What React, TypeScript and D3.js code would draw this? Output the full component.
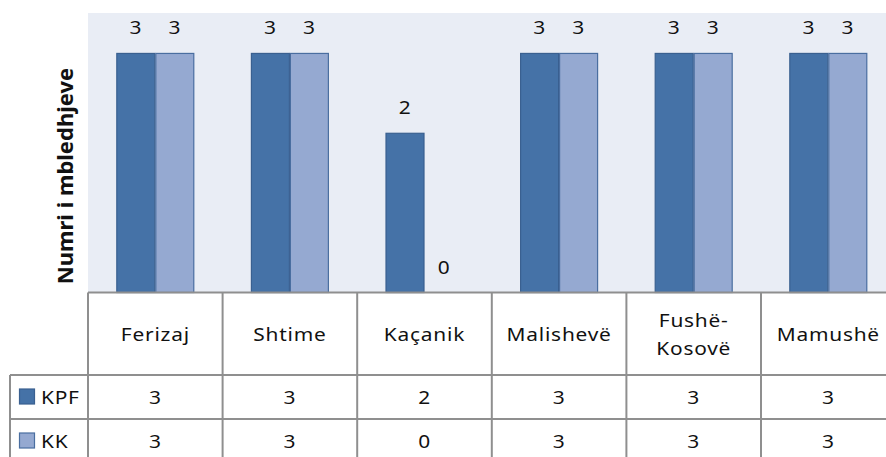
import * as d3 from 'd3';

// Data
const categories = ['Ferizaj', 'Shtime', 'Kaçanik', 'Malishevë', 'Fushë-Kosovë', 'Mamushë'];
const seriesNames = ['KPF', 'KK'];
const kpfValues = [3, 3, 2, 3, 3, 3];
const kkValues = [3, 3, 0, 3, 3, 3];
const yTitle = 'Numri i mbledhjeve';

const COLORS = ['#4572a7', '#95a9d1'];
const STROKES = ['#3a6090', '#4a6ea0'];

const W = 886;
const H = 457;
const PLOT = { left: 88, top: 13, bottom: 292.5 };
const STEP = 134.6;
const TABLE = { headerBottom: 375, rowH: 44, legendLeft: 10 };
const SX = 1.1; // horizontal stretch of the text
const FONT = '"Noto Sans", "Open Sans", sans-serif';
const GRID = '#8f8f8f';

function SText({ x, y, anchor = 'middle', size = 19, children }: any) {
  return (
    <text
      transform={`translate(${x},${y}) scale(${SX},1)`}
      textAnchor={anchor}
      fontFamily={FONT}
      fontSize={size}
      letterSpacing={0.7}
      fill="#111"
    >
      {children}
    </text>
  );
}

export default function App() {
  const series = [kpfValues, kkValues];

  const x = d3
    .scaleBand<string>()
    .domain(categories)
    .range([PLOT.left, PLOT.left + STEP * categories.length])
    .paddingInner(0)
    .paddingOuter(0);

  const xs = d3
    .scaleBand<string>()
    .domain(seriesNames)
    .range([0, x.bandwidth()])
    .paddingInner(0)
    .paddingOuter(0.726);

  const y = d3.scaleLinear().domain([0, 3.5]).range([PLOT.bottom, PLOT.top]);

  const tableBottom = TABLE.headerBottom + TABLE.rowH * seriesNames.length;
  const boundaries = categories.map((c) => x(c) ?? 0).concat([x.range()[1]]);

  return (
    <div style={{ position: 'absolute', left: 0, top: 0, width: W, height: H, overflow: 'hidden', background: '#fff' }}>
      <svg width={W} height={H} style={{ display: 'block' }}>
        {/* plot area */}
        <rect x={PLOT.left} y={PLOT.top} width={x.range()[1] - PLOT.left} height={PLOT.bottom - PLOT.top} fill="#e9edf5" />

        {/* bars */}
        {series.map((vals, si) =>
          categories.map((c, ci) => {
            const v = vals[ci];
            const bx = (x(c) ?? 0) + (xs(seriesNames[si]) ?? 0);
            return (
              <g key={`${si}-${ci}`}>
                {v > 0 && (
                  <rect
                    x={bx + 0.5}
                    y={y(v) + 0.5}
                    width={xs.bandwidth() - 1}
                    height={y(0) - y(v) - 0.5}
                    fill={COLORS[si]}
                    stroke={STROKES[si]}
                    strokeWidth={1.2}
                  />
                )}
                <SText x={bx + xs.bandwidth() / 2} y={y(v) - 18.5}>
                  {v}
                </SText>
              </g>
            );
          })
        )}

        {/* y axis title */}
        <text
          transform={`translate(73,176) rotate(-90)`}
          textAnchor="middle"
          fontFamily={FONT}
          fontSize={22}
          fontWeight={700}
          fill="#111"
        >
          {yTitle}
        </text>

        {/* data table lines */}
        <line x1={PLOT.left} x2={W} y1={PLOT.bottom} y2={PLOT.bottom} stroke={GRID} strokeWidth={2} />
        {seriesNames.map((_, i) => (
          <line
            key={`h${i}`}
            x1={TABLE.legendLeft}
            x2={W}
            y1={TABLE.headerBottom + TABLE.rowH * i}
            y2={TABLE.headerBottom + TABLE.rowH * i}
            stroke={GRID}
            strokeWidth={2}
          />
        ))}
        <line x1={TABLE.legendLeft} x2={W} y1={tableBottom} y2={tableBottom} stroke={GRID} strokeWidth={2} />
        {boundaries.map((bx, i) => (
          <line key={`v${i}`} x1={bx} x2={bx} y1={PLOT.bottom} y2={tableBottom} stroke={GRID} strokeWidth={2} />
        ))}
        <line
          x1={TABLE.legendLeft}
          x2={TABLE.legendLeft}
          y1={TABLE.headerBottom}
          y2={tableBottom}
          stroke={GRID}
          strokeWidth={2}
        />

        {/* category headers */}
        {categories.map((c) => {
          const cx = (x(c) ?? 0) + x.bandwidth() / 2;
          const parts = c.includes('-') ? [c.slice(0, c.indexOf('-') + 1), c.slice(c.indexOf('-') + 1)] : [c];
          const midY = (PLOT.bottom + TABLE.headerBottom) / 2 + 7;
          return (
            <g key={`hd-${c}`}>
              {parts.map((p, i) => (
                <SText key={p} x={cx} y={midY + (i - (parts.length - 1) / 2) * 28}>
                  {p}
                </SText>
              ))}
            </g>
          );
        })}

        {/* series rows */}
        {seriesNames.map((s, si) => {
          const rowMid = TABLE.headerBottom + TABLE.rowH * si + TABLE.rowH / 2;
          return (
            <g key={`row-${s}`}>
              <rect x={19.5} y={rowMid - 8} width={15} height={15} fill={COLORS[si]} stroke={STROKES[si]} strokeWidth={1.2} />
              <SText x={41} y={rowMid + 7} anchor="start">
                {s}
              </SText>
              {categories.map((c, ci) => (
                <SText key={c} x={(x(c) ?? 0) + x.bandwidth() / 2} y={rowMid + 7}>
                  {series[si][ci]}
                </SText>
              ))}
            </g>
          );
        })}
      </svg>
    </div>
  );
}
